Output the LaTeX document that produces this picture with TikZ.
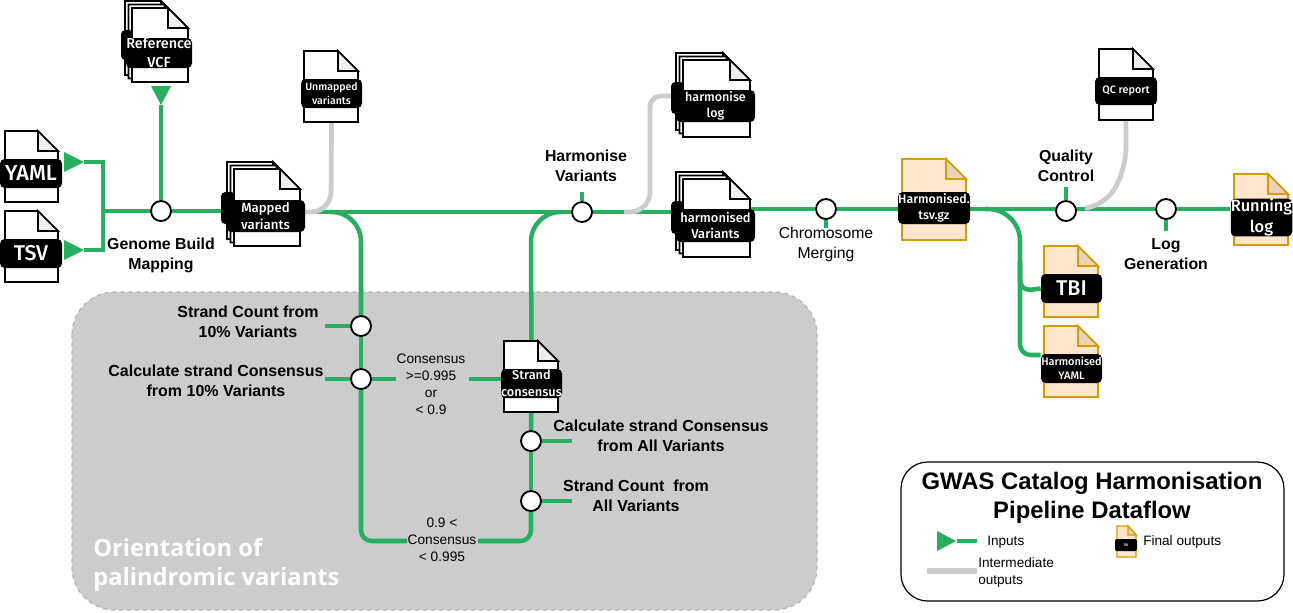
\documentclass[tikz,border=0pt]{standalone}
\usepackage{fontspec}
\setmainfont{Liberation Sans}
\newfontfamily\labelfont{Fira Sans Medium}[BoldFont=Fira Sans Bold]
\newfontfamily\panelfont{Open Sans}
\usetikzlibrary{calc}
\definecolor{metro}{HTML}{27AE60}
\definecolor{interm}{HTML}{CCCCCC}
\definecolor{panelgray}{HTML}{CCCCCC}
\definecolor{paneledge}{HTML}{B3B3B3}
\definecolor{finaledge}{HTML}{D79B00}
\definecolor{finalfill}{HTML}{FFE6CC}
\definecolor{finalfold}{HTML}{E9D3BC}
\definecolor{plainfold}{HTML}{EEEEEE}
\pgfdeclarelayer{panel}
\pgfdeclarelayer{lines}
\pgfsetlayers{panel,lines,main}
\tikzset{
  docshape/.style={draw=black,fill=white,line width=1.3pt,line join=miter},
  foldshape/.style={draw=black,fill=plainfold,line width=1.3pt,line join=miter},
  finaldoc/.style={docshape,draw=finaledge,fill=finalfill},
  finalfoldshape/.style={foldshape,draw=finaledge,fill=finalfold},
  labelbox/.style={fill=black,text=white,rounded corners=3.5pt,inner sep=0pt,align=center},
  station/.style={circle,draw=black,fill=white,line width=1.4pt,minimum size=15pt,inner sep=0pt},
  metroline/.style={draw=metro,line width=3.4pt,rounded corners=0pt},
  intermline/.style={draw=interm,line width=3.6pt},
  steptext/.style={font=\fontsize{11.9}{15}\selectfont\bfseries,align=center,inner sep=0pt,text=black},
  sidetext/.style={font=\fontsize{12}{15}\selectfont\bfseries,align=center,inner sep=0pt,text=black},
  condtext/.style={font=\fontsize{10.3}{12.75}\selectfont,align=center,inner sep=0pt,text=black},
  legendtext/.style={font=\fontsize{10.2}{12.75}\selectfont,align=left,inner sep=0pt,text=black}
}
% x y w h [body style] [fold style]
\newcommand{\docbody}[6]{%
  \draw[#5] (#1,#2) -- ({#1+#3-20},#2) -- ({#1+#3},{#2+20}) -- ({#1+#3},{#2+#4}) -- (#1,{#2+#4}) -- cycle;
  \draw[#6] ({#1+#3-20},#2) -- ({#1+#3-20},{#2+20}) -- ({#1+#3},{#2+20}) -- cycle;
}
% x y w h lx1 ly1 ly2 : the two sheets behind a front sheet, with the edge of their label
\newcommand{\stackdocs}[7]{%
  \docbody{#1-7}{#2-7}{#3}{#4}{docshape}{foldshape}
  \fill[black,rounded corners=3.5pt] ({#5-5},{#6-8}) rectangle ({#5+25},{#7-8});
  \docbody{#1-3.5}{#2-3.5}{#3}{#4}{docshape}{foldshape}
  \fill[black,rounded corners=3.5pt] ({#5-5},{#6-8}) rectangle ({#1+2},{#7-8});
}
% name x1 y1 x2 y2 size text
\newcommand{\doclabel}[7]{%
  \pgfmathsetmacro{\lablead}{#6*1.3}
  \node[labelbox,minimum width={(#4-#2)*0.75pt},minimum height={(#5-#3)*0.75pt},
    font=\labelfont\fontsize{#6}{\lablead}\selectfont] (#1) at ({(#2+#4)/2},{(#3+#5)/2}) {#7};
}
\begin{document}
\begin{tikzpicture}[x=0.75pt,y=-0.75pt]
\useasboundingbox (0,0) rectangle (1293,612);

% stations
\node[station] (genome) at (161,211) {};
\node[station] (harmon) at (582,212) {};
\node[station] (chrom) at (826,209) {};
\node[station] (qc) at (1066,211) {};
\node[station] (loggen) at (1166,209) {};
\node[station] (count10) at (361,326) {};
\node[station] (calc10) at (361,379) {};
\node[station] (calcall) at (531,441) {};
\node[station] (countall) at (531,501) {};

% files
\docbody{5}{131}{53}{71}{docshape}{foldshape}
\doclabel{yaml}{0}{159}{62}{188}{16.2}{YAML}
\docbody{5}{211}{53}{71}{docshape}{foldshape}
\doclabel{tsv}{0}{239}{62}{268}{16}{TSV}

\stackdocs{132}{8}{56}{74}{126}{38}{68}
\docbody{132}{8}{56}{74}{docshape}{foldshape}
\doclabel{refvcf}{126}{38}{192}{68}{10.8}{Reference\\VCF}

\docbody{304}{51}{54}{71}{docshape}{foldshape}
\doclabel{unmapped}{301}{79}{362}{108}{7.9}{Unmapped\\variants}

\stackdocs{234}{169}{66}{77}{226}{200}{232}
\docbody{234}{169}{66}{77}{docshape}{foldshape}
\doclabel{mapped}{226}{200}{305}{232}{9.9}{Mapped\\variants}

\stackdocs{683}{60}{67}{77}{676}{90}{122}
\docbody{683}{60}{67}{77}{docshape}{foldshape}
\doclabel{harmlog}{676}{90}{755}{122}{9.4}{harmonise\\log}

\stackdocs{683}{179}{67}{78}{676}{209}{242}
\docbody{683}{179}{67}{78}{docshape}{foldshape}
\doclabel{harmvar}{676}{209}{755}{242}{9.7}{harmonised\\Variants}

\docbody{902}{159}{64}{81}{finaldoc}{finalfoldshape}
\doclabel{harmtsv}{898}{192}{970}{224}{9.3}{Harmonised.\\tsv.gz}

\docbody{1099}{49}{54}{71}{docshape}{foldshape}
\doclabel{qcrep}{1095}{77}{1157}{105}{8.1}{QC report}

\docbody{1044}{246}{54}{71}{finaldoc}{finalfoldshape}
\doclabel{tbi}{1041}{274}{1102}{303}{16}{TBI}

\docbody{1044}{326}{54}{71}{finaldoc}{finalfoldshape}
\doclabel{harmyaml}{1041}{354}{1102}{383}{8.2}{Harmonised\\YAML}

\docbody{1234}{174}{54}{71}{finaldoc}{finalfoldshape}
\doclabel{runlog}{1231}{203}{1292}{232}{12.3}{Running\\log}

\docbody{504}{341}{54}{71}{docshape}{foldshape}
\doclabel{strandcons}{501}{369}{562}{398}{9.6}{Strand\\consensus}

% named ends and bends of the connectors
\coordinate (yamltip) at (84,162);
\coordinate (tsvtip) at (84,250);
\coordinate (vcftip) at (161,105);
\coordinate (inbus) at (103,211);
\coordinate (mapout) at (300,212);
\coordinate (split1) at (330,212);
\coordinate (join1) at (560,212);
\coordinate (harmout) at (750,209);
\coordinate (split2) at (985,209);
\coordinate (lowleft) at (361,541);
\coordinate (lowright) at (531,541);
\coordinate (lowgap1) at (407,541);
\coordinate (lowgap2) at (478,541);
\coordinate (condgap1) at (396,379);
\coordinate (condgap2) at (469,379);

\begin{pgfonlayer}{panel}
\draw[fill=panelgray,draw=paneledge,line width=0.9pt,dashed,rounded corners=32pt] (72,292) rectangle (817,610);
\end{pgfonlayer}

\begin{pgfonlayer}{lines}
% inputs
\draw[metroline] (yamltip) -- (103,162) -- (103,250) -- (tsvtip);
\draw[metroline] (inbus) -- (genome);
\draw[metroline] (vcftip) -- (genome);
\draw[metroline] (genome) -- (genome -| mapped.west);
% main line
\draw[metroline] (mapout) -- (harmon);
\draw[metroline] (harmon) -- (harmon -| harmvar);
\draw[metroline] (harmout) -- (chrom);
\draw[metroline] (chrom) -- (split2);
\draw[metroline] (split2) -- (qc.center |- split2);
\draw[metroline] (qc.center |- split2) -- (loggen);
\draw[metroline] (loggen) -- (loggen -| runlog.west);
% palindromic loop
\draw[metroline,rounded corners=22pt] (split1) -- (361,212) -- (count10);
\draw[metroline] (count10) -- (calc10);
\draw[metroline,rounded corners=8pt] (calc10) -- (lowleft) -- (lowgap1);
\draw[metroline,rounded corners=8pt] (lowgap2) -- (lowright) -- (countall);
\draw[metroline] (countall) -- (calcall);
\draw[metroline] (calcall) -- (strandcons);
\draw[metroline,rounded corners=22pt] (strandcons) -- (531,212) -- (join1);
\draw[metroline] (calc10) -- (condgap1);
\draw[metroline] (condgap2) -- (strandcons.west |- condgap2);
% ticks to the step labels
\draw[metroline] (count10) -- ++(-36,0) coordinate (t1);
\draw[metroline] (calc10) -- ++(-36,0) coordinate (t2);
\draw[metroline] (calcall) -- ++(41,0) coordinate (t3);
\draw[metroline] (countall) -- ++(41,0) coordinate (t4);
\draw[metroline] (harmon) -- ++(0,-20) coordinate (t5);
\draw[metroline] (qc) -- ++(0,-24) coordinate (t6);
\draw[metroline] (loggen) -- ++(0,22) coordinate (t7);
\draw[metroline] (chrom) -- ++(0,19) coordinate (t8);
% final outputs
\draw[metroline,rounded corners=24pt] (split2) -- (1020,209) -- (1020,262);
\draw[metroline,rounded corners=8pt] (1020,262) -- (1020,291) -- (tbi.west);
\draw[metroline,rounded corners=8pt] (1020,262) -- (1020,355) -- (harmyaml.west |- 0,355);
% intermediate outputs
\draw[intermline,rounded corners=15pt] (unmapped.south |- 0,122) -- (331,212) -- (mapout);
\draw[intermline,rounded corners=8pt] (harmlog.west |- 0,96) -- (650,96) -- (650,170);
\draw[intermline,rounded corners=15pt] (650,170) -- (650,212) -- (624,212);
\draw[intermline,rounded corners=15pt] (qcrep.south |- 0,120) -- (1126,168) -- (1105,206) -- (1087,208);
\end{pgfonlayer}

% input arrowheads
\fill[metro] (yamltip) -- ++(-20,-10) -- ++(0,20) -- cycle;
\fill[metro] (tsvtip) -- ++(-20,-10) -- ++(0,20) -- cycle;
\fill[metro] (vcftip) -- ++(-10,-19) -- ++(20,0) -- cycle;

% step labels
\node[steptext] (tgenome) at (161,255.5) {Genome Build\\Mapping};
\node[steptext] (tharmon) at (586,165.5) {Harmonise\\Variants};
\node[steptext] (tqc) at (1066,165.5) {Quality\\Control};
\node[steptext] (tlog) at (1166,254) {Log\\Generation};
\node[steptext,font=\fontsize{11.8}{15}\selectfont] (tchrom) at (826,244) {Chromosome\\Merging};
\node[sidetext] (tcount10) at (248,321.5) {Strand Count from\\10\% Variants};
\node[sidetext] (tcalc10) at (216,380.5) {Calculate strand Consensus\\from 10\% Variants};
\node[sidetext] (tcalcall) at (661,435.5) {Calculate strand Consensus\\from All Variants};
\node[sidetext] (tcountall) at (636,495.5) {Strand Count\ \ from\\All Variants};
\node[condtext] (cond1) at (431,384) {Consensus\\>=0.995\\or\\< 0.9};
\node[condtext] (cond2) at (442,540) {0.9 <\\Consensus\\< 0.995};
\node[inner sep=0pt,align=left,text=white,font=\panelfont\bfseries\fontsize{17.8}{21.7}\selectfont,anchor=west] (panelname) at (93,564.5) {Orientation of\\palindromic variants};

% legend
\draw[black,fill=white,line width=0.9pt,rounded corners=20pt] (901,462) rectangle (1284,601);
\node[inner sep=0pt,align=center,font=\bfseries\fontsize{17.9}{21.8}\selectfont] (legendtitle) at (1092,497.5) {GWAS Catalog Harmonisation\\Pipeline Dataflow};
\coordinate (lginA) at (956,541);
\coordinate (lginB) at (977,541);
\fill[metro] (lginA) -- ++(-19,-10) -- ++(0,20) -- cycle;
\draw[metro,line width=3.4pt] (957,541) -- (lginB);
\node[legendtext,anchor=west] (lgin) at (987,542) {Inputs};
\coordinate (lgimA) at (927,571);
\coordinate (lgimB) at (977,571);
\draw[interm,line width=3.8pt] (lgimA) -- (lgimB);
\node[legendtext,anchor=west] (lgim) at (978,572) {Intermediate\\outputs};
\draw[finaledge,fill=finalfill,line width=1pt] (1117,526) -- (1128,526) -- (1136,535) -- (1136,557) -- (1117,557) -- cycle;
\draw[finaledge,fill=finalfold,line width=1pt] (1128,526) -- (1128,535) -- (1136,535) -- cycle;
\node[labelbox,minimum width=16.5pt,minimum height=9pt,rounded corners=1.5pt,font=\labelfont\fontsize{2.6}{3}\selectfont] (lgtbi) at (1126,545) {TBI};
\node[legendtext,anchor=west] (lgfinal) at (1143,542) {Final outputs};
\end{tikzpicture}
\end{document}
